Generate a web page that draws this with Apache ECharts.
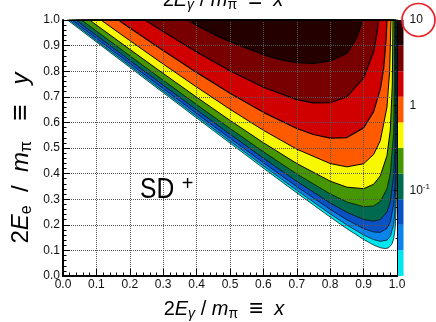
<!DOCTYPE html>
<html>
<head>
<meta charset="utf-8">
<script src="https://cdn.jsdelivr.net/npm/echarts@6.0.0/dist/echarts.min.js"></script>
<style>
html, body { margin: 0; padding: 0; background: #fff; }
#chart { width: 436px; height: 322px; }
</style>
</head>
<body>
<div id="chart"></div>
<script>
// Contour levels of the SD+ density (log spaced, 0.3 decade per band)
const levels = [0.01, 0.02, 0.0398, 0.0794, 0.158, 0.316, 0.631, 1.26, 2.51, 5.01, 10];
const bandColors = ['#00e6ee', '#0a84e8', '#0a52c4', '#006a4e', '#469600',
                    '#f8f800', '#ff5a00', '#d00000', '#780000', '#240000'];

// Level curves (x, y): each starts on y = 1, runs along the kinematic edge,
// turns near x ~ 0.95 and climbs back to y = 1 close to x = 1.
const contour0 = [[0.0136,1],[0.1,0.9142],[0.2,0.8151],[0.3,0.7161],[0.4,0.6174],[0.5,0.5191],[0.6,0.4213],[0.7,0.3246],[0.8,0.2302],[0.85,0.1848],[0.9,0.1426],[0.93,0.121],[0.95,0.1103],[0.965,0.107],[0.975,0.11],[0.985,0.125],[0.99,0.145],[0.994,0.18],[0.996,0.217],[0.998,0.3035],[0.999,0.4274],[0.9995,0.6035],[0.9998,1]];
const contour1 = [[0.0192,1],[0.1,0.9201],[0.2,0.8213],[0.3,0.7228],[0.4,0.6246],[0.5,0.527],[0.6,0.4302],[0.7,0.3348],[0.8,0.2426],[0.85,0.1992],[0.9,0.1603],[0.93,0.1421],[0.95,0.1353],[0.97,0.1401],[0.98,0.1548],[0.99,0.2007],[0.994,0.252],[0.997,0.4],[0.998,0.65],[0.9982,1]];
const contour2 = [[0.0272,1],[0.1,0.9284],[0.2,0.8302],[0.3,0.7322],[0.4,0.6348],[0.5,0.5381],[0.6,0.4426],[0.7,0.3492],[0.8,0.2603],[0.85,0.2196],[0.9,0.1853],[0.93,0.1719],[0.95,0.1706],[0.97,0.1857],[0.98,0.2107],[0.99,0.2797],[0.994,0.354],[0.996,0.45],[0.997,0.7],[0.9972,1]];
const contour3 = [[0.0388,1],[0.1,0.9402],[0.2,0.8426],[0.3,0.7456],[0.4,0.6492],[0.5,0.5539],[0.6,0.4603],[0.7,0.3696],[0.8,0.2853],[0.85,0.2485],[0.9,0.2206],[0.93,0.2142],[0.95,0.2206],[0.97,0.2502],[0.98,0.2897],[0.99,0.3914],[0.994,0.5],[0.995,0.7],[0.9955,1]];
const contour4 = [[0.0555,1],[0.1,0.9569],[0.2,0.8603],[0.3,0.7645],[0.4,0.6696],[0.5,0.5763],[0.6,0.4853],[0.7,0.3985],[0.8,0.3206],[0.85,0.2893],[0.9,0.2706],[0.93,0.2739],[0.95,0.2912],[0.97,0.3414],[0.98,0.4014],[0.99,0.56],[0.992,0.75],[0.993,1]];
const contour5 = [[0.0795,1],[0.1,0.9804],[0.2,0.8853],[0.3,0.7912],[0.4,0.6985],[0.5,0.6079],[0.6,0.5206],[0.7,0.4393],[0.8,0.3706],[0.85,0.347],[0.9,0.3412],[0.93,0.3583],[0.95,0.3911],[0.97,0.4704],[0.98,0.57],[0.986,0.75],[0.988,1]];
const contour6 = [[0.1136,1],[0.15,0.9661],[0.2,0.9197],[0.3,0.8279],[0.4,0.7382],[0.5,0.6514],[0.6,0.5692],[0.7,0.4954],[0.8,0.4393],[0.85,0.4263],[0.9,0.4385],[0.93,0.4745],[0.95,0.5287],[0.97,0.66],[0.978,0.8],[0.982,1]];
const contour7 = [[0.1658,1],[0.2,0.9692],[0.3,0.8809],[0.4,0.7954],[0.5,0.7141],[0.6,0.6393],[0.7,0.5763],[0.75,0.5527],[0.8,0.5385],[0.85,0.5408],[0.9,0.5786],[0.93,0.6421],[0.95,0.73],[0.96,0.81],[0.967,0.92],[0.97,1]];
const contour8 = [[0.2455,1],[0.3,0.9548],[0.4,0.8752],[0.5,0.8015],[0.6,0.7371],[0.7,0.6892],[0.75,0.6764],[0.8,0.6767],[0.85,0.7005],[0.9,0.7742],[0.93,0.8758],[0.94,0.95],[0.945,1]];
const contour9 = [[0.375,1],[0.4,0.98],[0.45,0.945],[0.5,0.915],[0.55,0.89],[0.6,0.865],[0.65,0.845],[0.7,0.833],[0.75,0.83],[0.8,0.84],[0.85,0.87],[0.875,0.92],[0.89,0.97],[0.895,1]];
const contours = [contour0, contour1, contour2, contour3, contour4,
                  contour5, contour6, contour7, contour8, contour9];

const xTickLabels = ['0.0','0.1','0.2','0.3','0.4','0.5','0.6','0.7','0.8','0.9','1.0'];
const yTickLabels = ['0.0','0.1','0.2','0.3','0.4','0.5','0.6','0.7','0.8','0.9','1.0'];
const zTickLabels = { '1': '10', '0': '1', '-1': '{b|10}{p|-1}' };

const FONT = '"Liberation Sans", Arial, Helvetica, sans-serif';

function titleStyle(size, sub) {
  const lh = size + 6;
  const pad = lh - sub;
  return {
    n: { fontFamily: FONT, fontSize: size, lineHeight: lh, fill: '#000' },
    q: { fontFamily: FONT, fontSize: size + 4, lineHeight: lh, fill: '#000' },
    i: { fontFamily: FONT, fontSize: size, fontStyle: 'italic', lineHeight: lh, fill: '#000' },
    s: { fontFamily: FONT, fontSize: sub, fontStyle: 'italic', lineHeight: sub, padding: [pad - 2, 0, 0, 0], fill: '#000' },
    u: { fontFamily: FONT, fontSize: sub, lineHeight: sub, padding: [pad - 2, 0, 0, 0], fill: '#000' }
  };
}
const xTitle = '{n|2}{i|E}{s|γ}{n| / }{i|m}{u|π}{n|  }{q|≡}{n|  }{i|x}';
const yTitle = '{n|2}{i|E}{u|e}{n|  /  }{i|m}{u|π}{n|   }{q|≡}{n|   }{i|y}';

const chart = echarts.init(document.getElementById('chart'), null, { renderer: 'canvas' });

const axisText = { color: '#111', fontFamily: FONT, fontSize: 12 };
const gridLine = { show: true, lineStyle: { color: '#555', type: [1, 1], width: 1 } };

chart.setOption({
  animation: false,
  backgroundColor: '#fff',
  grid: [
    { left: 63, top: 20, width: 334, height: 256, show: false, outerBoundsMode: 'none' },
    { left: 397.5, top: 20, width: 6, height: 256, show: false, outerBoundsMode: 'none' }
  ],
  xAxis: [
    {
      gridIndex: 0, type: 'value', min: 0, max: 1, interval: 0.1, position: 'bottom', z: 5,
      axisLine: { show: true, onZero: false, lineStyle: { color: '#000', width: 2 } },
      axisTick: { show: true, inside: true, length: 7, lineStyle: { color: '#000', width: 1 } },
      minorTick: { show: true, splitNumber: 5, length: 3.5, lineStyle: { color: '#000', width: 1 } },
      axisLabel: Object.assign({ margin: 3, formatter: v => xTickLabels[Math.round(v * 10)] }, axisText),
      splitLine: gridLine
    },
    {
      gridIndex: 0, type: 'value', min: 0, max: 1, position: 'top', z: 5,
      axisLine: { show: true, onZero: false, lineStyle: { color: '#000', width: 1 } },
      axisTick: { show: false }, axisLabel: { show: false }, splitLine: { show: false }
    },
    { gridIndex: 1, type: 'value', min: 0, max: 1, show: false }
  ],
  yAxis: [
    {
      gridIndex: 0, type: 'value', min: 0, max: 1, interval: 0.1, position: 'left', z: 5,
      axisLine: { show: true, onZero: false, lineStyle: { color: '#000', width: 2 } },
      axisTick: { show: true, inside: true, length: 7, lineStyle: { color: '#000', width: 1 } },
      minorTick: { show: true, splitNumber: 5, length: 3.5, lineStyle: { color: '#000', width: 1 } },
      axisLabel: Object.assign({ margin: 3, formatter: v => yTickLabels[Math.round(v * 10)] }, axisText),
      splitLine: gridLine
    },
    {
      gridIndex: 0, type: 'value', min: 0, max: 1, position: 'right', z: 5,
      axisLine: { show: true, onZero: false, lineStyle: { color: '#000', width: 1 } },
      axisTick: { show: false }, axisLabel: { show: false }, splitLine: { show: false }
    },
    {
      gridIndex: 1, type: 'log', logBase: 10, min: 0.01, max: 10, position: 'right', z: 5,
      axisLine: { show: false },
      axisTick: { show: true, inside: true, length: 4, lineStyle: { color: '#000', width: 1 } },
      minorTick: { show: true, splitNumber: 5, length: 2, lineStyle: { color: '#000', width: 1 } },
      splitLine: { show: false },
      axisLabel: {
        margin: 6, color: '#111', fontFamily: FONT, fontSize: 12,
        formatter: v => zTickLabels[String(Math.round(Math.log10(v)))] || '',
        rich: {
          b: { fontFamily: FONT, fontSize: 12, color: '#111' },
          p: { fontFamily: FONT, fontSize: 8, color: '#111', padding: [0, 0, 8, 0] }
        }
      }
    }
  ],
  series: [
    {
      // filled level regions, lowest level first
      type: 'custom', coordinateSystem: 'cartesian2d', xAxisIndex: 0, yAxisIndex: 0,
      data: contours.map((c, k) => [k, levels[k]]),
      renderItem: (params, api) => {
        const k = params.dataIndex;
        const pts = contours[k].map(p => api.coord(p));
        return {
          type: 'polygon',
          shape: { points: pts },
          style: { fill: bandColors[k], stroke: '#000', lineWidth: k >= 7 ? 1.2 : (k >= 5 ? 1 : 0.7), lineJoin: 'round' }
        };
      }
    },
    {
      // palette bar
      type: 'custom', coordinateSystem: 'cartesian2d', xAxisIndex: 2, yAxisIndex: 2,
      data: bandColors.map((c, k) => [0.5, levels[k]]),
      renderItem: (params, api) => {
        const k = params.dataIndex;
        const a = api.coord([0, levels[k]]);
        const b = api.coord([1, levels[k + 1]]);
        return {
          type: 'rect',
          shape: { x: a[0], y: b[1], width: b[0] - a[0], height: a[1] - b[1] },
          style: { fill: bandColors[k] }
        };
      }
    }
  ],
  graphic: [
    { type: 'text', x: 224, y: 309, z: 100,
      style: { text: xTitle, rich: titleStyle(20, 14), align: 'center', verticalAlign: 'middle' } },
    { type: 'text', x: 223, y: 0, z: 100,
      style: { text: xTitle, rich: titleStyle(20, 14), align: 'center', verticalAlign: 'middle' } },
    { type: 'text', x: 21, y: 158, rotation: Math.PI / 2, z: 100,
      style: { text: yTitle, rich: titleStyle(24, 16), align: 'center', verticalAlign: 'middle' } },
    { type: 'text', x: 140, y: 190, scaleX: 0.82, z: 100,
      style: { text: 'SD', font: '30px ' + FONT, fill: '#000', align: 'left', verticalAlign: 'middle' } },
    { type: 'text', x: 187.5, y: 184, z: 100,
      style: { text: '+', font: '20px ' + FONT, fill: '#000', align: 'center', verticalAlign: 'middle' } },
    { type: 'circle', z: 100,
      shape: { cx: 418.5, cy: 20, r: 16.5 },
      style: { fill: 'none', stroke: '#e8242a', lineWidth: 1.7 } }
  ]
});
</script>
</body>
</html>
